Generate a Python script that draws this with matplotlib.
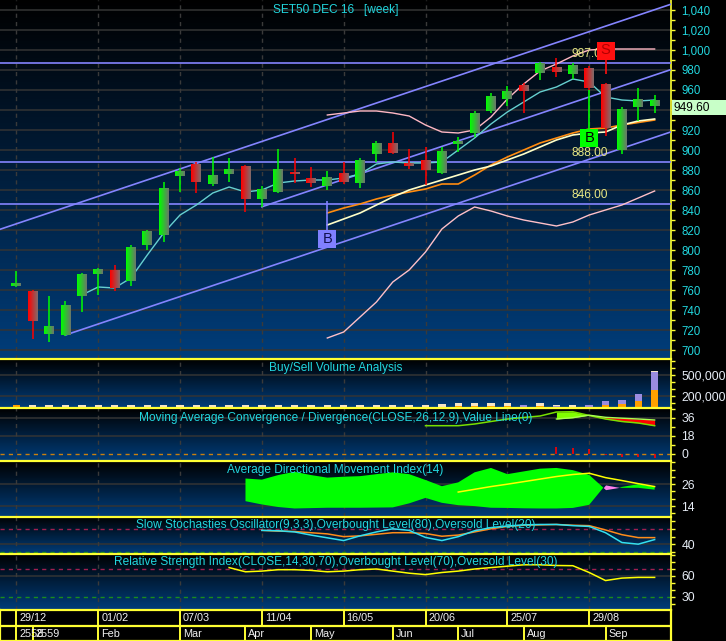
import numpy as np
import matplotlib
matplotlib.use("Agg")
import matplotlib.pyplot as plt
from matplotlib.patches import Rectangle
from matplotlib.ticker import FuncFormatter
from matplotlib.transforms import blended_transform_factory

plt.rcParams['font.family'] = ['Liberation Sans', 'DejaVu Sans']

# weekly bars of SET50 DEC 16, index 0 = week of 29/12/2558
opens = [764, 759, 716, 715, 754, 776, 780, 769, 805, 815,
         874, 886, 866, 876, 884, 851, 858, 878, 872, 864,
         877, 867, 896, 907, 887, 890, 877, 906, 917, 939,
         951, 965, 977, 983, 976, 982, 966, 900, 943, 944]
highs = [779, 760, 754, 749, 777, 782, 785, 805, 820, 868,
         882, 888, 893, 892, 885, 864, 901, 892, 883, 879,
         888, 892, 909, 918, 901, 903, 903, 913, 939, 957,
         964, 967, 988, 992, 987, 984, 967, 943, 962, 955]
lows = [763, 711, 708, 714, 738, 755, 759, 764, 800, 808,
        858, 857, 864, 868, 838, 843, 857, 867, 863, 860,
        866, 862, 888, 896, 881, 865, 876, 898, 913, 937,
        944, 937, 970, 973, 971, 960, 914, 896, 929, 937]
closes = [767, 729, 724, 745, 776, 781, 762, 803, 819, 862,
          879, 868, 875, 881, 851, 861, 881, 876, 867, 873,
          868, 890, 907, 897, 884, 880, 899, 909, 936, 954,
          959, 959, 987, 978, 985, 962, 922, 940, 951, 949.6]

# short moving average (from bar 4)
ma_short = [755, 763, 762, 772, 795, 817, 835, 845, 857, 863,
            858, 860, 867, 869, 870, 870, 872, 876, 886, 888,
            887, 887, 888, 900, 912, 926, 938, 948, 958, 963,
            971, 968, 953, 950, 949, 950]
# 20-bar overlays (from bar 19)
band_upper = [935, 937, 939, 939, 937, 934, 925, 918, 917, 920,
              933, 951, 966, 979, 986, 994, 1000, 1001, 1001, 1001, 1001]
band_lower = [712, 718, 733, 748, 768, 780, 798, 821, 834, 843,
              839, 834, 830, 827, 824, 828, 835, 840, 845, 852, 859]
ma_orange = [837, 842, 846, 851, 855, 858, 861, 866, 866, 875,
             885, 893, 900, 907, 912, 917, 921, 922, 925, 927.5, 930]
ma_cream = [825, 831, 837, 845, 853, 860, 865, 870, 875, 880,
            884, 890, 896, 903, 910, 915, 917, 918, 925, 929, 931]

levels = [987, 888, 846]
chan_start = [-1, 15, 3]
chan_start_val = [820.7, 843.2, 715.0]
chan_slope = 5.49

sig_idx = [19, 35, 36]
sig_text = ['B', 'B', 'S']
sig_box = [811, 912.5, 999.5]
sig_stem = [849, 960, 976]

# volume (buy / sell / neutral)
vol_buy = [67000, 0, 0, 0, 0, 0, 0, 0, 0, 0,
           0, 0, 0, 0, 0, 0, 0, 0, 0, 0,
           0, 0, 0, 0, 0, 0, 0, 48000, 48000, 48000,
           48000, 39000, 48000, 39000, 43000, 39000, 67000, 81000, 129000, 281000]
vol_sell = [0, 0, 0, 0, 0, 0, 0, 0, 0, 0,
            0, 0, 0, 0, 0, 0, 0, 0, 0, 0,
            0, 0, 0, 0, 0, 0, 0, 0, 0, 0,
            0, 28000, 0, 10000, 0, 28000, 57000, 58000, 100000, 262000]
vol_neutral = [0, 67000, 67000, 67000, 67000, 67000, 67000, 67000, 67000, 67000,
               67000, 67000, 67000, 67000, 67000, 67000, 67000, 67000, 67000, 67000,
               67000, 67000, 67000, 67000, 67000, 67000, 81000, 48000, 48000, 48000,
               48000, 0, 48000, 18000, 24000, 0, 0, 0, 0, 10000]

# MACD (line from bar 25, signal and histogram from bar 33)
macd = [28.3, 28.3, 28.3, 30, 32.5, 35, 36.5, 38, 42, 42.3, 38.5, 35, 32.5, 31, 28.3]
macd_signal = [35, 36.3, 38.8, 36.7, 35.8, 35, 34]
macd_hist = [7, 6, 4.7, -1, -3, -3.3, -4.3]

# ADX (DI from bar 14, ADX from bar 27)
plus_di = [29.1, 28.5, 31, 32.8, 31, 29.6, 30.1, 30.4, 31.5, 32.5,
           31.5, 28.3, 24.9, 27, 32.5, 34.9, 31.5, 33, 34.5, 34.9,
           33.7, 31.1, 23, 24.5, 26, 24.5]
minus_di = [16.7, 14.9, 13.5, 12.7, 12.9, 13.1, 13.1, 13.1, 13.2, 13.3,
            15.5, 18.5, 15.8, 14.5, 14, 13.1, 13, 12.8, 12.7, 12.7,
            13, 14.7, 25.6, 24, 24, 23]
adx = [21.7, 23.2, 24.7, 26, 27.4, 28.8, 30.2, 31.3, 32, 29.6, 28, 26.3, 24.7]

# slow stochastics (from bar 15)
stoch_k = [76, 75, 72, 64, 57, 50, 62, 72, 80, 76,
           58, 50, 60, 75, 83, 87, 90, 91, 91, 88,
           86, 70, 45, 40.8, 52.5]
stoch_d = [76, 74, 73, 70, 67, 60, 62, 66, 70, 70,
           68, 61, 64, 72, 80, 86, 89, 90, 91, 89,
           88, 77, 65, 57.5, 57.5]

# RSI (from bar 13)
rsi = [72, 66, 67, 69, 69, 68, 66, 67, 69, 70,
       67, 64, 62, 65, 67, 70, 72, 74, 76, 76,
       75, 74.7, 65, 53.5, 57, 58, 58]

date_pos = [0, 5, 10, 15, 20, 25, 30, 35]
date_labels = ['29/12', '01/02', '07/03', '11/04', '16/05', '20/06', '25/07', '29/08']
month_pos = [0, 1, 5, 10, 14, 18, 23, 27, 31, 36]
month_labels = ['2558', '2559', 'Feb', 'Mar', 'Apr', 'May', 'Jun', 'Jul', 'Aug', 'Sep']

W, H = 726, 641
YEL = '#ffff33'
CYAN = '#22d6de'
SUBLAB = '#e6ecf5'
GRID = '#343434'
last = closes[-1]

fig = plt.figure(figsize=(W / 100, H / 100), dpi=100)
fig.patch.set_facecolor('black')


def panel(top, bottom):
    return fig.add_axes([0, 1 - bottom / H, 671 / W, (bottom - top) / H])


def background(ax):
    t = np.linspace(0, 1, 256)
    img = np.zeros((256, 1, 3))
    img[:, 0, 1] = t * 0.24
    img[:, 0, 2] = t * 0.48
    ax.imshow(img, extent=[0, 1, 0, 1], transform=ax.transAxes,
              aspect='auto', zorder=0, origin='upper')


def style(ax, ylim, major, minor, grid, labcolor, size, top_line=True, fmt=None):
    background(ax)
    ax.set_xlim(-1, 40)
    ax.set_ylim(*ylim)
    ax.set_xticks([])
    ax.yaxis.tick_right()
    ax.set_yticks(major)
    ax.set_yticks(minor, minor=True)
    ax.yaxis.set_major_formatter(FuncFormatter(fmt or (lambda v, p: f'{v:,.0f}')))
    ax.tick_params(axis='y', which='both', direction='out', length=3, width=1,
                   color=YEL, labelcolor=labcolor, labelsize=size, pad=4.5)
    for s in ax.spines.values():
        s.set_visible(False)
    ax.spines['right'].set_visible(True)
    ax.spines['right'].set_color(YEL)
    ax.spines['right'].set_linewidth(1.2)
    if top_line:
        ax.spines['top'].set_visible(True)
        ax.spines['top'].set_color(YEL)
        ax.spines['top'].set_linewidth(1.6)
    for g in grid:
        ax.axhline(g, color=GRID, lw=1.1, zorder=1)
    for p in date_pos:
        ax.axvline(p, color='#3a3a3a', lw=1, ls=(0, (3, 3)), zorder=1)


def title(ax, text, off_px, h_px):
    ax.text(0.5, 1 - off_px / h_px, text, transform=ax.transAxes, ha='center',
            va='center', color=CYAN, fontsize=8.6, zorder=20)


# ---------------- price panel ----------------
ax = panel(0, 359.3)
# the last-price box hides the price label under it
price_fmt = lambda v, p: '' if abs(v - (last - 7)) < 12 else f'{v:,.0f}'
style(ax, (690.7, 1050), np.arange(700, 1041, 20), np.arange(710, 1041, 20),
      np.arange(700, 1041, 20), CYAN, 8.3, top_line=False, fmt=price_fmt)
title(ax, 'SET50 DEC 16   [week]', 10, 359.3)

for lvl in levels:
    ax.axhline(lvl, color='#8484ff', lw=1.2, zorder=3)
    ax.text(33.9, lvl + 3, f'{lvl:.2f}', color='#e8e884', fontsize=8.6,
            va='bottom', ha='left', zorder=7.5)
for s, v in zip(chan_start, chan_start_val):
    xs = np.array([s, 40])
    ax.plot(xs, v + chan_slope * (xs - s), color='#8484ff', lw=1.2, zorder=3)

bb_idx = np.arange(19, 40)
ax.plot(np.arange(4, 40), ma_short, color='#66d0d0', lw=1, zorder=4)
ax.plot(bb_idx, band_upper, color='#ffb8c4', lw=1, zorder=4)
ax.plot(bb_idx, band_lower, color='#ffc0c8', lw=1, zorder=4)
ax.plot(bb_idx, ma_orange, color='#ff8c10', lw=1.2, zorder=4)
ax.plot(bb_idx, ma_cream, color='#ffffc8', lw=1.2, zorder=4)

idx = np.arange(len(opens))
up = np.array(closes) >= np.array(opens)
ax.vlines(idx, lows, highs, colors=np.where(up, '#00ff00', '#ff0000'), lw=1.1, zorder=5)
t = np.linspace(0, 1, 32)[None, :, None]
grad_up = (1 - t) * np.array([0, 1, 0]) + t * np.array([0.42, 0.46, 0.42])
grad_dn = (1 - t) * np.array([1, 0, 0]) + t * np.array([0.5, 0.42, 0.42])
for i in idx:
    lo, hi = min(opens[i], closes[i]), max(opens[i], closes[i])
    if hi - lo < 1.5:
        lo, hi = (lo + hi) / 2 - 0.75, (lo + hi) / 2 + 0.75
    ax.imshow(grad_up if up[i] else grad_dn, extent=(i - 0.3, i + 0.3, lo, hi),
              aspect='auto', interpolation='bilinear', zorder=6)

box_face = {'B': '#8080ff', 'S': '#ff1010'}
for k, (i, s, c, stem) in enumerate(zip(sig_idx, sig_text, sig_box, sig_stem)):
    face = box_face[s] if k == 0 or s == 'S' else '#00ff00'
    txt = {'#8080ff': '#101050', '#00ff00': 'black', '#ff1010': '#b00000'}[face]
    edge = c + 9 if stem > c else c - 9
    ax.vlines(i, edge, stem, colors=face, lw=1.2, zorder=7)
    ax.add_patch(Rectangle((i - 0.55, c - 9), 1.1, 18, facecolor=face,
                           edgecolor='none', zorder=8))
    ax.text(i, c, s, ha='center', va='center', fontsize=10.5, color=txt, zorder=9)

trans = blended_transform_factory(ax.transAxes, ax.transData)
ax.add_patch(Rectangle((1.0015, last - 14.5), 0.085, 14.5, transform=trans,
                       facecolor='#c8ffc8', edgecolor='none', clip_on=False, zorder=10))
ax.text(673 / 671, last - 7.2, f'{last:.2f}', transform=trans, ha='left',
        va='center', color='black', fontsize=8.6, zorder=11, clip_on=False)
ax.set_xlim(-1, 40)
ax.set_ylim(690.7, 1050)

# ---------------- volume ----------------
ax = panel(359.3, 408.3)
style(ax, (20000, 720000), [200000, 500000], [100000, 300000, 400000, 600000, 700000],
      [200000, 500000], SUBLAB, 8.8)
title(ax, 'Buy/Sell Volume Analysis', 8.7, 49)
vb = np.array(vol_buy)
vs = np.array(vol_sell)
ax.bar(idx, vb, width=0.45, color='#ffa000', zorder=5)
ax.bar(idx, vs, width=0.45, bottom=vb, color='#9a8ce0', zorder=5)
ax.bar(idx, vol_neutral, width=0.45, bottom=vb + vs, color='#f6e4c4', zorder=5)
ax.set_xlim(-1, 40)

# ---------------- MACD ----------------
ax = panel(408.3, 461)
style(ax, (-7, 45.7), [0, 18, 36], [9, 27, 45], [18, 36], SUBLAB, 8.8)
ax.axhline(0, color='#c88010', lw=1, ls=(0, (3, 3)), zorder=2)
title(ax, 'Moving Average Convergence / Divergence(CLOSE,26,12,9),Value Line(0)', 9.7, 52.7)
m_idx = np.arange(25, 40)
s_idx = np.arange(33, 40)
m_sub = np.array(macd)[8:]
sig = np.array(macd_signal)
ax.fill_between(s_idx, m_sub, sig, where=m_sub >= sig, interpolate=True,
                color='#80ff00', lw=0, zorder=3)
ax.fill_between(s_idx, m_sub, sig, where=m_sub < sig, interpolate=True,
                color='#ff0000', lw=0, zorder=3)
ax.plot(m_idx, macd, color='#78e000', lw=1.1, zorder=4)
ax.plot(s_idx, macd_signal, color='#a8ff50', lw=1, zorder=4)
ax.vlines(s_idx, 0, macd_hist, colors='#ff0000', lw=1.2, zorder=4)

# ---------------- ADX ----------------
ax = panel(461, 516.7)
style(ax, (8.2, 38.7), [14, 26], [10, 18, 22, 30, 34, 38], [14, 26], SUBLAB, 8.8)
d_idx = np.arange(14, 40)
pdi = np.array(plus_di)
mdi = np.array(minus_di)
ax.fill_between(d_idx, pdi, mdi, where=pdi >= mdi, interpolate=True,
                color='#00ff00', lw=0, zorder=3)
ax.fill_between(d_idx, pdi, mdi, where=pdi < mdi, interpolate=True,
                color='#ff80ee', lw=0, zorder=3)
ax.plot(np.arange(27, 40), adx, color='#ffff00', lw=1.1, zorder=4)
title(ax, 'Average Directional Movement Index(14)', 9, 55.7)

# ---------------- Stochastics ----------------
ax = panel(516.7, 554.3)
style(ax, (15, 110.8), [40], [20, 60, 80, 100], [40], SUBLAB, 8.8)
ax.axhline(80, color='#a02050', lw=1, ls=(0, (3, 3)), zorder=2)
ax.axhline(20, color='#1c8c1c', lw=1, ls=(0, (3, 3)), zorder=2)
ax.plot(np.arange(15, 40), stoch_d, color='#ff8c1a', lw=1.1, zorder=4)
ax.plot(np.arange(15, 40), stoch_k, color='#33e0f0', lw=1.1, zorder=4)
title(ax, 'Slow Stochasties Oscillator(9,3,3),Overbought Level(80),Oversold Level(20)', 8.3, 37.6)

# ---------------- RSI ----------------
ax = panel(554.3, 610)
style(ax, (11.4, 91), [30, 60], [20, 40, 50, 70, 80, 90], [60], SUBLAB, 8.8)
ax.axhline(70, color='#a02050', lw=1, ls=(0, (3, 3)), zorder=2)
ax.axhline(30, color='#1c8c1c', lw=1, ls=(0, (3, 3)), zorder=2)
ax.plot(np.arange(13, 40), rsi, color='#ffff00', lw=1.1, zorder=4)
title(ax, 'Relative Strength Index(CLOSE,14,30,70),Overbought Level(70),Oversold Level(30)', 8, 55.7)

# ---------------- date axis ----------------
ax = panel(610, 641)
ax.set_facecolor('black')
ax.set_xlim(-1, 40)
ax.set_ylim(0, 2)
ax.set_xticks([])
ax.set_yticks([])
for s in ax.spines.values():
    s.set_color(YEL)
    s.set_linewidth(1.6)
ax.axhline(1, color=YEL, lw=1.6)
ax.vlines(date_pos, 1, 2, colors=YEL, lw=1.4)
ax.vlines(month_pos, 0, 1, colors=YEL, lw=1.4)
for p, lab in zip(date_pos, date_labels):
    ax.text(p + 0.18, 1.48, lab, color='#f0f0f0', fontsize=7.8, va='center', ha='left')
for p, lab in zip(month_pos, month_labels):
    ax.text(p + 0.18, 0.45, lab, color='#f0f0f0', fontsize=7.8, va='center', ha='left')

fig.savefig('out.png', dpi=100, facecolor='black')
